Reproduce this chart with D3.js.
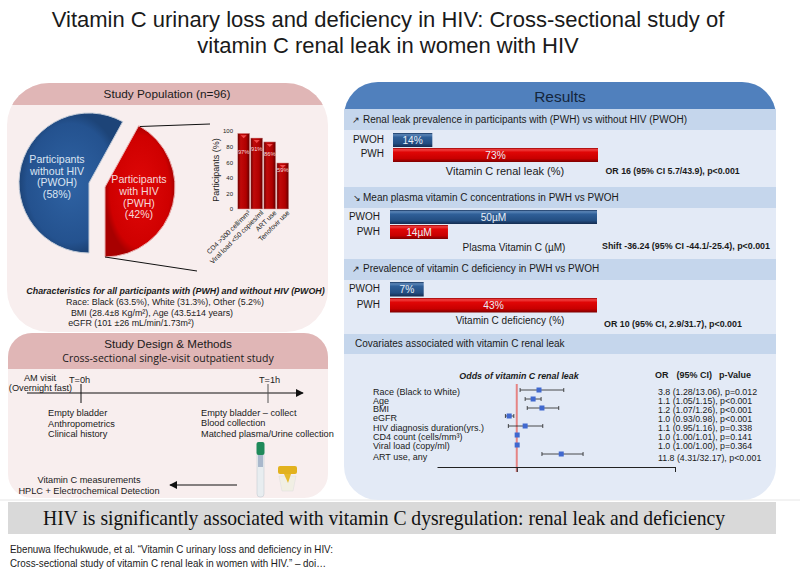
<!DOCTYPE html>
<html><head><meta charset="utf-8">
<script src="https://cdn.jsdelivr.net/npm/d3@7"></script>
<style>html,body{margin:0;padding:0;background:#fff}svg{display:block}text{font-family:"Liberation Sans",Arial,sans-serif;fill:#1a1a1a}</style>
</head><body><svg id="c" width="800" height="576"></svg>
<script>
const pieLabels=["PWOH","PWH"];
const pieValues=[58,42];
const subCategories=["CD4 >300 cell/mm³","Viral load <50 copies/ml","ART use","Tenofovir use"];
const subValues=[97,91,86,59];
const subLabels=["97%","91%","86%","59%"];
const subTicks=[0,20,40,60,80,100];
const leakValues=[14,73];
const plasmaValues=[50,14];
const deficiencyValues=[7,43];
const forestLabels=["Race (Black to White)","Age","BMI","eGFR","HIV diagnosis duration(yrs.)","CD4 count (cells/mm³)","Viral load (copy/ml)","ART use, any"];
const forestStats=["3.8 (1.28/13.06), p=0.012","1.1 (1.05/1.15), p<0.001","1.2 (1.07/1.26), p<0.001","1.0 (0.93/0.98), p<0.001","1.1 (0.95/1.16), p=0.338","1.0 (1.00/1.01), p=0.141","1.0 (1.00/1.00), p=0.364","11.8 (4.31/32.17), p<0.001"];
// positions of the marks along the drawn (unlabelled) odds axis
const forestMid=[0.53,0.39,0.60,-0.18,0.20,0.01,0.01,1.06];
const forestLo=[0.08,0.20,0.25,-0.27,-0.20,0.00,0.00,0.60];
const forestHi=[1.12,0.58,1.00,-0.07,0.62,0.02,0.02,1.58];

const svg=d3.select("#c"), defs=svg.append("defs");
function T(x,y,s,o={}){const t=svg.append("text").attr("x",x).attr("y",y).attr("font-size",o.size||9).attr("text-anchor",o.anchor||"start").text(s);
 if(o.fill)t.style("fill",o.fill); if(o.bold)t.attr("font-weight","bold"); if(o.italic)t.attr("font-style","italic"); if(o.family)t.style("font-family",o.family); if(o.len)t.attr("textLength",o.len).attr("lengthAdjust","spacingAndGlyphs"); return t;}
function grad(id,stops){const g=defs.append("linearGradient").attr("id",id).attr("x1",0).attr("y1",0).attr("x2",0).attr("y2",1);
 stops.forEach(s=>g.append("stop").attr("offset",s[0]).attr("stop-color",s[1]));}
grad("bb",[[0,"#17355f"],[.12,"#5b86b8"],[.3,"#2f5f98"],[.75,"#234e82"],[1,"#142c50"]]);
grad("rb",[[0,"#9a0000"],[.12,"#f04040"],[.3,"#e00606"],[.75,"#c80000"],[1,"#7d0000"]]);
const rv=defs.append("linearGradient").attr("id","rc").attr("x1",0).attr("x2",1).attr("y1",0).attr("y2",0);
[[0,"#6d0000"],[.25,"#c00a0a"],[.7,"#b00000"],[1,"#600000"]].forEach(s=>rv.append("stop").attr("offset",s[0]).attr("stop-color",s[1]));
const rp=defs.append("radialGradient").attr("id","pb");
[[0,"#2f63a4"],[.85,"#24528f"],[1,"#1d4478"]].forEach(s=>rp.append("stop").attr("offset",s[0]).attr("stop-color",s[1]));
const rq=defs.append("radialGradient").attr("id","pr");
[[0,"#e00808"],[.85,"#cf0000"],[1,"#a80000"]].forEach(s=>rq.append("stop").attr("offset",s[0]).attr("stop-color",s[1]));
defs.append("marker").attr("id","ah").attr("viewBox","0 0 10 10").attr("refX",9).attr("refY",5).attr("markerWidth",8).attr("markerHeight",8).attr("orient","auto-start-reverse").attr("markerUnits","userSpaceOnUse").append("path").attr("d","M0,0L10,5L0,10Z").attr("fill","#111");

// Title
T(388,27,"Vitamin C urinary loss and deficiency in HIV: Cross-sectional study of",{size:22,anchor:"middle"});
T(388,53,"vitamin C renal leak in women with HIV",{size:22,anchor:"middle"});

// panels
function panel(id,x,y,w,h,r,hh,body,head){
 defs.append("clipPath").attr("id",id).append("rect").attr("x",x).attr("y",y).attr("width",w).attr("height",h).attr("rx",r);
 const g=svg.append("g").attr("clip-path",`url(#${id})`);
 g.append("rect").attr("x",x).attr("y",y).attr("width",w).attr("height",h).attr("fill",body);
 g.append("rect").attr("x",x).attr("y",y).attr("width",w).attr("height",hh).attr("fill",head);
}
svg.append("line").attr("x1",0).attr("x2",800).attr("y1",500).attr("y2",500).attr("stroke","#e6e6e6");
panel("p1",7,83,321,249,42,22,"#f8eeee","#e0b6b6");
panel("p2",8,333,320,165,24,36,"#f8eeee","#e0b6b6");
panel("p3",344,82,432,418,34,27,"#e3eaf6","#5080bd");

// ---- Study population
T(167,98,"Study Population (n=96)",{size:11.8,anchor:"middle"});
const pieGen=d3.pie().sort(null).startAngle(Math.PI).endAngle(3*Math.PI);
const arcs=pieGen(pieValues), arc=d3.arc().innerRadius(0).outerRadius(70);
const centers=[[89,183],[105,187]], pf=["url(#pb)","url(#pr)"], ps=["#c4ccd8","#e9b0b0"];
svg.selectAll(".slice").data(arcs).join("path").attr("class","slice").attr("d",arc)
 .attr("transform",(d,i)=>`translate(${centers[i]})`).attr("fill",(d,i)=>pf[i]).attr("stroke",(d,i)=>ps[i]).attr("stroke-width",1);
["Participants","without HIV","(PWOH)","(58%)"].forEach((s,i)=>T(57,[163,175,186,198][i],s,{size:10.6,anchor:"middle",fill:"#dbe5f2"}));
["Participants","with HIV","(PWH)","(42%)"].forEach((s,i)=>T(139,[183,195,207,218][i],s,{size:10.6,anchor:"middle",fill:"#f6d9d9"}));
svg.append("path").attr("d","M140,126.5L210,124M105,257L197,271").attr("stroke","#111").attr("fill","none");

// mini bars
const sx=d3.scaleBand().domain(subCategories).range([237.5,289]).paddingInner(.09).paddingOuter(.02);
const sy=d3.scaleLinear().domain([0,100]).range([209,131]);
const subDrop=[21,13,14,9];
const ya=svg.append("g").attr("transform","translate(236,0)").call(d3.axisLeft(sy).tickValues(subTicks).tickSize(0).tickPadding(3));
ya.select(".domain").remove(); ya.selectAll("text").attr("font-size",6).style("font-family",'"Liberation Sans"');
svg.selectAll(".sb").data(subValues).join("rect").attr("class","sb").attr("x",(d,i)=>sx(subCategories[i])).attr("width",sx.bandwidth())
 .attr("y",d=>sy(d)).attr("height",d=>sy(0)-sy(d)).attr("fill","url(#rc)").attr("stroke","#d9a0a0").attr("stroke-width",.5);
svg.selectAll(".st").data(subValues).join("path").attr("class","st")
 .attr("transform",(d,i)=>`translate(${sx(subCategories[i])+sx.bandwidth()/2},${sy(d)+2})`).attr("d","M-3,0L3,0L0,3Z").attr("fill","#f04a4a");
svg.selectAll(".sl").data(subValues).join("text").attr("class","sl").attr("x",(d,i)=>sx(subCategories[i])+sx.bandwidth()/2)
 .attr("y",(d,i)=>sy(d)+subDrop[i]).attr("text-anchor","middle").attr("font-size",5.8).style("fill","#f6dcdc").text((d,i)=>subLabels[i]);
const xa=svg.append("g").attr("transform","translate(0,209)").call(d3.axisBottom(sx).tickSize(0).tickPadding(0));
xa.select(".domain").remove();
xa.selectAll("text").attr("font-size",6.8).style("font-family",'"Liberation Sans"').attr("text-anchor","end").attr("dx",2).attr("dy",8).attr("transform","rotate(-45)");
T(0,0,"Participants (%)",{size:9,anchor:"middle"}).attr("transform","translate(219,170) rotate(-90)");

T(175.5,294,"Characteristics for all participants with (PWH) and without HIV (PWOH)",{size:8.9,anchor:"middle",bold:true,italic:true});
T(165,305,"Race: Black (63.5%), White (31.3%), Other (5.2%)",{size:8.9,anchor:"middle"});
T(152,316,"BMI (28.4±8 Kg/m²), Age (43.5±14 years)",{size:8.9,anchor:"middle"});
T(131,326,"eGFR (101 ±26 mL/min/1.73m²)",{size:8.9,anchor:"middle"});

// ---- Design
T(168,348,"Study Design & Methods",{size:11.6,anchor:"middle"});
T(168,362,"Cross-sectional single-visit outpatient study",{size:10.5,anchor:"middle",family:'"Open Sans"'});
svg.append("line").attr("x1",27).attr("x2",303).attr("y1",393).attr("y2",393).attr("stroke","#111").attr("marker-end","url(#ah)");
svg.append("line").attr("x1",81).attr("x2",81).attr("y1",384).attr("y2",403).attr("stroke","#111");
svg.append("line").attr("x1",268).attr("x2",268).attr("y1",384).attr("y2",403).attr("stroke","#555");
T(40,381,"AM visit",{size:9.2,anchor:"middle"});
T(40.5,391,"(Overnight fast)",{size:9.2,anchor:"middle"});
T(69,383,"T=0h",{size:9.2});T(259,383,"T=1h",{size:9.2});
["Empty bladder","Anthropometrics","Clinical history"].forEach((s,i)=>T(48,[416,427,437][i],s,{size:9.2}));
["Empty bladder – collect","Blood collection","Matched plasma/Urine collection"].forEach((s,i)=>T(201,[416,426,437][i],s,{size:9.2}));
T(89,483,"Vitamin C measurements",{size:9.2,anchor:"middle"});
T(89,494,"HPLC + Electrochemical Detection",{size:9.2,anchor:"middle"});
svg.append("line").attr("x1",237).attr("x2",170).attr("y1",485).attr("y2",485).attr("stroke","#111").attr("marker-end","url(#ah)");
// tube and cup
svg.append("rect").attr("x",257).attr("y",452).attr("width",7).attr("height",45).attr("rx",3).attr("fill","#e8edf0").attr("stroke","#bcc4cc").attr("stroke-width",.5);
svg.append("rect").attr("x",256.5).attr("y",442).attr("width",8).attr("height",13).attr("rx",2).attr("fill","#1f8a5a");
svg.append("rect").attr("x",258).attr("y",455).attr("width",5).attr("height",12).attr("fill","#a9b8cc");
svg.append("path").attr("d","M279,476L296,476L293,491L282,491Z").attr("fill","#f1efe4").attr("stroke","#ddd").attr("stroke-width",.5);
svg.append("rect").attr("x",278).attr("y",466).attr("width",19).attr("height",8).attr("rx",2).attr("fill","#e2b21e");
svg.append("path").attr("d","M284,474L291,474L288,483Z").attr("fill","#e6bb2c");

// ---- Results
T(560,102,"Results",{size:15.5,anchor:"middle",fill:"#15263c"});
const bands=[[109,21],[187,21],[259,21],[334,20]];
svg.selectAll(".bd").data(bands).join("rect").attr("class","bd").attr("x",344).attr("width",432).attr("y",d=>d[0]).attr("height",d=>d[1]).attr("fill","#c5d6ec");
T(352,123,"↗",{size:9});T(363,123,"Renal leak prevalence in participants with (PWH) vs without HIV (PWOH)",{size:10});
T(353,201,"↘",{size:9});T(363,201,"Mean plasma vitamin C concentrations in PWH vs PWOH",{size:10});
T(352,272,"↗",{size:9});T(363,272,"Prevalence of vitamin C deficiency in PWH vs PWOH",{size:10});
T(355,347,"Covariates associated with vitamin C renal leak",{size:10});

function barSet(vals,maxV,x0,x1,ys,h,suffix,labelX,labelYs){
 const s=d3.scaleLinear().domain([0,maxV]).range([x0,x1]);
 const fills=["url(#bb)","url(#rb)"], names=["PWOH","PWH"];
 vals.forEach((v,i)=>{
  svg.append("rect").datum(v).attr("x",s(0)).attr("y",ys[i]).attr("width",s(v)-s(0)).attr("height",h).attr("fill",fills[i]);
  T((s(0)+s(v))/2,ys[i]+h-3.2,v+suffix,{size:10.2,anchor:"middle",fill:"#e8eef6"});
  T(labelX,labelYs[i],names[i],{size:10,anchor:"end"});
 });
}
barSet(leakValues,73,393,598,[133,148],14,"%",384,[143,157]);
barSet(plasmaValues,50,390,597,[210,225],14,"µM",380,[220,235]);
barSet(deficiencyValues,43,390,597,[282,298],14.5,"%",380,[292,308]);
T(505,175,"Vitamin C renal leak (%)",{size:11,anchor:"middle"});
T(605.5,174,"OR 16 (95% CI 5.7/43.9), p<0.001",{size:8.8,bold:true});
T(514,251,"Plasma Vitamin C (µM)",{size:10,anchor:"middle"});
T(602,249,"Shift -36.24 (95% CI -44.1/-25.4), p<0.001",{size:8.9,bold:true});
T(510,324,"Vitamin C deficiency (%)",{size:10,anchor:"middle"});
T(604,327,"OR  10 (95% CI, 2.9/31.7), p<0.001",{size:8.9,bold:true});

// forest
const fx=d3.scaleLinear().domain([-1.9,3.77]).range([437,675]);
const rowY=[390,399,408,416,426,435,445,454];
const labY=[395,404,412,421,431,440,449,460];
const statY=[395,404,413,422,431,440,449,461];
T(519,379,"Odds of vitamin C renal leak",{size:8.9,anchor:"middle",bold:true,italic:true});
T(655,378,"OR",{size:9,bold:true});T(676.5,378,"(95% CI)",{size:9,bold:true});T(719,378,"p-Value",{size:9,bold:true});
svg.append("line").attr("x1",fx(0)).attr("x2",fx(0)).attr("y1",384).attr("y2",472).attr("stroke","#e58484").attr("stroke-width",2);
const fa=svg.append("g").attr("transform","translate(0,467)").call(d3.axisBottom(fx).tickValues([0,3.77]).tickFormat("").tickSize(5).tickSizeOuter(0));
fa.select(".domain").attr("stroke","#222"); fa.selectAll("line").attr("stroke","#222");
forestLabels.forEach((s,i)=>T(373,labY[i],s,{size:9}));
forestStats.forEach((s,i)=>T(658,statY[i],s,{size:8.8}));
const cap=2;
svg.selectAll(".fl").data(forestMid).join("path").attr("class","fl")
 .attr("d",(d,i)=>`M${fx(forestLo[i])},${rowY[i]}H${fx(forestHi[i])}M${fx(forestLo[i])},${rowY[i]-cap}V${rowY[i]+cap}M${fx(forestHi[i])},${rowY[i]-cap}V${rowY[i]+cap}`)
 .attr("stroke","#222").attr("stroke-width",.8).attr("fill","none");
svg.selectAll(".fp").data(forestMid).join("rect").attr("class","fp").attr("x",d=>fx(d)-2.5).attr("width",5).attr("height",5).attr("y",(d,i)=>rowY[i]-2.5).attr("fill","#4169cf");

// footer
svg.append("rect").attr("x",8).attr("y",502).attr("width",768).attr("height",32).attr("fill","#d9d9d9");
T(384,525,"HIV is significantly associated with vitamin C dysregulation: renal leak and deficiency",{size:21.5,anchor:"middle",family:'"Liberation Serif"',fill:"#111",len:682});
T(10,553,"Ebenuwa Ifechukwude, et al. “Vitamin C urinary loss and deficiency in HIV:",{size:10.5,len:323});
T(10,567,"Cross-sectional study of vitamin C renal leak in women with HIV.” – doi…",{size:10.5,len:316});
</script></body></html>
